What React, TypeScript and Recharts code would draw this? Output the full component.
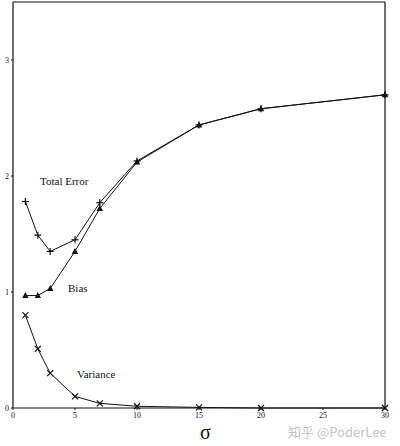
import { LineChart, Line, XAxis, YAxis, ReferenceLine } from "recharts";

const sigma = [1, 2, 3, 5, 7, 10, 15, 20, 30];
const totalError = [1.78, 1.49, 1.35, 1.45, 1.77, 2.13, 2.44, 2.58, 2.7];
const bias = [0.97, 0.97, 1.03, 1.35, 1.72, 2.12, 2.44, 2.58, 2.7];
const variance = [0.8, 0.51, 0.3, 0.1, 0.04, 0.015, 0.005, 0, 0];
const xTicks = [0, 5, 10, 15, 20, 25, 30];
const yTicks = [0, 1, 2, 3];

const data = sigma.map((s, i) => ({
  sigma: s,
  total: totalError[i],
  bias: bias[i],
  variance: variance[i],
}));

const FONT = "'Liberation Serif', 'DejaVu Serif', serif";

const PlusDot = (props: any) => {
  const { cx, cy } = props;
  return (
    <g>
      <line x1={cx - 3.5} y1={cy} x2={cx + 3.5} y2={cy} stroke="#111" strokeWidth={1.2} />
      <line x1={cx} y1={cy - 3.5} x2={cx} y2={cy + 3.5} stroke="#111" strokeWidth={1.2} />
    </g>
  );
};

const TriDot = (props: any) => {
  const { cx, cy } = props;
  return <polygon points={`${cx},${cy - 3.5} ${cx - 3.2},${cy + 2.5} ${cx + 3.2},${cy + 2.5}`} fill="#111" />;
};

const CrossDot = (props: any) => {
  const { cx, cy } = props;
  return (
    <g>
      <line x1={cx - 3} y1={cy - 3} x2={cx + 3} y2={cy + 3} stroke="#111" strokeWidth={1.2} />
      <line x1={cx - 3} y1={cy + 3} x2={cx + 3} y2={cy - 3} stroke="#111" strokeWidth={1.2} />
    </g>
  );
};

const tickStyle = { fontSize: 8, fontFamily: FONT, fill: "#111", stroke: "none" };

export default function App() {
  return (
    <div style={{ position: "absolute", left: 0, top: 0, width: 400, height: 446, background: "#fff" }}>
      <LineChart
        width={400}
        height={446}
        data={data}
        margin={{ top: 2, right: 15, bottom: 20, left: 0 }}
      >
        <XAxis
          dataKey="sigma"
          type="number"
          domain={[0, 30]}
          ticks={xTicks}
          tick={tickStyle}
          tickSize={2}
          height={18}
          stroke="#111"
          tickLine={{ stroke: "#111" }}
          axisLine={{ stroke: "#111", strokeWidth: 1.2 }}
        />
        <YAxis
          type="number"
          domain={[0, 3.5]}
          ticks={yTicks}
          tick={tickStyle}
          tickSize={2}
          width={13}
          stroke="#111"
          axisLine={{ stroke: "#111", strokeWidth: 1.2 }}
        />
        <ReferenceLine y={3.5} stroke="#111" strokeWidth={1.2} ifOverflow="visible" />
        <ReferenceLine x={30} stroke="#111" strokeWidth={1.2} ifOverflow="visible" />
        <Line dataKey="total" stroke="#111" strokeWidth={1} dot={PlusDot} isAnimationActive={false} />
        <Line dataKey="bias" stroke="#111" strokeWidth={1} dot={TriDot} isAnimationActive={false} />
        <Line dataKey="variance" stroke="#111" strokeWidth={1} dot={CrossDot} isAnimationActive={false} />
      </LineChart>
      <div style={{ position: "absolute", left: 40, top: 175, fontFamily: FONT, fontSize: 11, color: "#111" }}>
        Total Error
      </div>
      <div style={{ position: "absolute", left: 68, top: 282, fontFamily: FONT, fontSize: 11, color: "#111" }}>
        Bias
      </div>
      <div style={{ position: "absolute", left: 77, top: 368, fontFamily: FONT, fontSize: 11, color: "#111" }}>
        Variance
      </div>
      <div style={{ position: "absolute", left: 200, top: 421, fontFamily: FONT, fontSize: 20, lineHeight: "22px", color: "#111" }}>
        σ
      </div>
      <div style={{ position: "absolute", left: 288, top: 424, fontFamily: "'Noto Sans CJK SC', 'Noto Sans', sans-serif", fontSize: 13, lineHeight: "15px", color: "#c4c4c4" }}>
        知乎 @PoderLee
      </div>
    </div>
  );
}
